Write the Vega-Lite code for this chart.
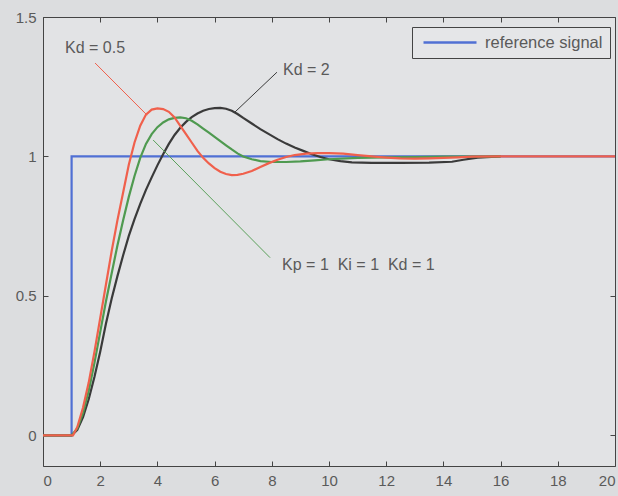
{
  "$schema": "https://vega.github.io/schema/vega-lite/v6.json",
  "width": 572,
  "height": 449,
  "autosize": {"type": "none"},
  "padding": {"left": 43, "top": 17, "right": 3, "bottom": 30},
  "background": "#dcdddf",
  "config": {
    "view": {"stroke": "#444", "strokeWidth": 1, "fill": "#e2e3e5"},
    "axis": {"domain": false, "grid": false, "tickColor": "#444", "tickSize": -5, "labelFont": "Liberation Sans", "labelFontSize": 15, "labelColor": "#5a5a5a", "title": null},
    "text": {"font": "Liberation Sans"}
  },
  "datasets": {
    "curves": [
      {"s": "reference signal", "i": 0, "t": 0, "y": 0},
      {"s": "reference signal", "i": 1, "t": 1, "y": 0},
      {"s": "reference signal", "i": 2, "t": 1, "y": 1},
      {"s": "reference signal", "i": 3, "t": 20, "y": 1},

      {"s": "Kd = 2", "i": 0, "t": 0, "y": 0},
      {"s": "Kd = 2", "i": 1, "t": 1, "y": 0},
      {"s": "Kd = 2", "i": 2, "t": 1.2, "y": 0.02},
      {"s": "Kd = 2", "i": 3, "t": 1.4, "y": 0.065},
      {"s": "Kd = 2", "i": 4, "t": 1.6, "y": 0.13},
      {"s": "Kd = 2", "i": 5, "t": 1.8, "y": 0.21},
      {"s": "Kd = 2", "i": 6, "t": 2.0, "y": 0.3},
      {"s": "Kd = 2", "i": 7, "t": 2.2, "y": 0.4},
      {"s": "Kd = 2", "i": 8, "t": 2.4, "y": 0.49},
      {"s": "Kd = 2", "i": 9, "t": 2.6, "y": 0.57},
      {"s": "Kd = 2", "i": 10, "t": 2.8, "y": 0.645},
      {"s": "Kd = 2", "i": 11, "t": 3.0, "y": 0.715},
      {"s": "Kd = 2", "i": 12, "t": 3.2, "y": 0.775},
      {"s": "Kd = 2", "i": 13, "t": 3.4, "y": 0.83},
      {"s": "Kd = 2", "i": 14, "t": 3.6, "y": 0.88},
      {"s": "Kd = 2", "i": 15, "t": 3.8, "y": 0.925},
      {"s": "Kd = 2", "i": 16, "t": 4.0, "y": 0.968},
      {"s": "Kd = 2", "i": 17, "t": 4.2, "y": 1.008},
      {"s": "Kd = 2", "i": 18, "t": 4.4, "y": 1.045},
      {"s": "Kd = 2", "i": 19, "t": 4.6, "y": 1.077},
      {"s": "Kd = 2", "i": 20, "t": 4.8, "y": 1.103},
      {"s": "Kd = 2", "i": 21, "t": 5.0, "y": 1.124},
      {"s": "Kd = 2", "i": 22, "t": 5.2, "y": 1.141},
      {"s": "Kd = 2", "i": 23, "t": 5.4, "y": 1.154},
      {"s": "Kd = 2", "i": 24, "t": 5.6, "y": 1.164},
      {"s": "Kd = 2", "i": 25, "t": 5.8, "y": 1.17},
      {"s": "Kd = 2", "i": 26, "t": 6.0, "y": 1.173},
      {"s": "Kd = 2", "i": 27, "t": 6.2, "y": 1.174},
      {"s": "Kd = 2", "i": 28, "t": 6.4, "y": 1.171},
      {"s": "Kd = 2", "i": 29, "t": 6.6, "y": 1.164},
      {"s": "Kd = 2", "i": 30, "t": 6.8, "y": 1.152},
      {"s": "Kd = 2", "i": 31, "t": 7.0, "y": 1.138},
      {"s": "Kd = 2", "i": 32, "t": 7.3, "y": 1.118},
      {"s": "Kd = 2", "i": 33, "t": 7.6, "y": 1.098},
      {"s": "Kd = 2", "i": 34, "t": 7.9, "y": 1.08},
      {"s": "Kd = 2", "i": 35, "t": 8.2, "y": 1.062},
      {"s": "Kd = 2", "i": 36, "t": 8.5, "y": 1.046},
      {"s": "Kd = 2", "i": 37, "t": 8.8, "y": 1.032},
      {"s": "Kd = 2", "i": 38, "t": 9.1, "y": 1.02},
      {"s": "Kd = 2", "i": 39, "t": 9.4, "y": 1.008},
      {"s": "Kd = 2", "i": 40, "t": 9.7, "y": 0.998},
      {"s": "Kd = 2", "i": 41, "t": 10.0, "y": 0.99},
      {"s": "Kd = 2", "i": 42, "t": 10.4, "y": 0.983},
      {"s": "Kd = 2", "i": 43, "t": 10.8, "y": 0.979},
      {"s": "Kd = 2", "i": 44, "t": 11.5, "y": 0.977},
      {"s": "Kd = 2", "i": 45, "t": 12.5, "y": 0.977},
      {"s": "Kd = 2", "i": 46, "t": 13.5, "y": 0.978},
      {"s": "Kd = 2", "i": 47, "t": 14.3, "y": 0.981},
      {"s": "Kd = 2", "i": 48, "t": 14.7, "y": 0.988},
      {"s": "Kd = 2", "i": 49, "t": 15.2, "y": 0.996},
      {"s": "Kd = 2", "i": 50, "t": 16.0, "y": 1.0},

      {"s": "Kd = 1", "i": 0, "t": 0, "y": 0},
      {"s": "Kd = 1", "i": 1, "t": 1, "y": 0},
      {"s": "Kd = 1", "i": 2, "t": 1.2, "y": 0.025},
      {"s": "Kd = 1", "i": 3, "t": 1.4, "y": 0.08},
      {"s": "Kd = 1", "i": 4, "t": 1.6, "y": 0.16},
      {"s": "Kd = 1", "i": 5, "t": 1.8, "y": 0.26},
      {"s": "Kd = 1", "i": 6, "t": 2.0, "y": 0.37},
      {"s": "Kd = 1", "i": 7, "t": 2.2, "y": 0.48},
      {"s": "Kd = 1", "i": 8, "t": 2.4, "y": 0.58},
      {"s": "Kd = 1", "i": 9, "t": 2.6, "y": 0.68},
      {"s": "Kd = 1", "i": 10, "t": 2.8, "y": 0.77},
      {"s": "Kd = 1", "i": 11, "t": 3.0, "y": 0.855},
      {"s": "Kd = 1", "i": 12, "t": 3.2, "y": 0.93},
      {"s": "Kd = 1", "i": 13, "t": 3.4, "y": 0.995},
      {"s": "Kd = 1", "i": 14, "t": 3.6, "y": 1.045},
      {"s": "Kd = 1", "i": 15, "t": 3.8, "y": 1.08},
      {"s": "Kd = 1", "i": 16, "t": 4.0, "y": 1.105},
      {"s": "Kd = 1", "i": 17, "t": 4.2, "y": 1.122},
      {"s": "Kd = 1", "i": 18, "t": 4.4, "y": 1.133},
      {"s": "Kd = 1", "i": 19, "t": 4.6, "y": 1.138},
      {"s": "Kd = 1", "i": 20, "t": 4.8, "y": 1.14},
      {"s": "Kd = 1", "i": 21, "t": 5.0, "y": 1.137},
      {"s": "Kd = 1", "i": 22, "t": 5.2, "y": 1.128},
      {"s": "Kd = 1", "i": 23, "t": 5.4, "y": 1.115},
      {"s": "Kd = 1", "i": 24, "t": 5.6, "y": 1.1},
      {"s": "Kd = 1", "i": 25, "t": 5.8, "y": 1.085},
      {"s": "Kd = 1", "i": 26, "t": 6.0, "y": 1.07},
      {"s": "Kd = 1", "i": 27, "t": 6.2, "y": 1.055},
      {"s": "Kd = 1", "i": 28, "t": 6.4, "y": 1.04},
      {"s": "Kd = 1", "i": 29, "t": 6.6, "y": 1.025},
      {"s": "Kd = 1", "i": 30, "t": 6.8, "y": 1.011},
      {"s": "Kd = 1", "i": 31, "t": 7.0, "y": 1.0},
      {"s": "Kd = 1", "i": 32, "t": 7.3, "y": 0.99},
      {"s": "Kd = 1", "i": 33, "t": 7.6, "y": 0.983},
      {"s": "Kd = 1", "i": 34, "t": 8.0, "y": 0.98},
      {"s": "Kd = 1", "i": 35, "t": 8.5, "y": 0.98},
      {"s": "Kd = 1", "i": 36, "t": 9.0, "y": 0.982},
      {"s": "Kd = 1", "i": 37, "t": 9.5, "y": 0.986},
      {"s": "Kd = 1", "i": 38, "t": 10.0, "y": 0.99},
      {"s": "Kd = 1", "i": 39, "t": 11.0, "y": 0.995},
      {"s": "Kd = 1", "i": 40, "t": 12.0, "y": 0.997},
      {"s": "Kd = 1", "i": 41, "t": 13.0, "y": 0.998},
      {"s": "Kd = 1", "i": 42, "t": 14.0, "y": 0.999},
      {"s": "Kd = 1", "i": 43, "t": 16.0, "y": 1.0},

      {"s": "Kd = 0.5", "i": 0, "t": 0, "y": 0},
      {"s": "Kd = 0.5", "i": 1, "t": 1.05, "y": 0},
      {"s": "Kd = 0.5", "i": 2, "t": 1.2, "y": 0.03},
      {"s": "Kd = 0.5", "i": 3, "t": 1.4, "y": 0.1},
      {"s": "Kd = 0.5", "i": 4, "t": 1.6, "y": 0.19},
      {"s": "Kd = 0.5", "i": 5, "t": 1.8, "y": 0.3},
      {"s": "Kd = 0.5", "i": 6, "t": 2.0, "y": 0.42},
      {"s": "Kd = 0.5", "i": 7, "t": 2.2, "y": 0.54},
      {"s": "Kd = 0.5", "i": 8, "t": 2.4, "y": 0.66},
      {"s": "Kd = 0.5", "i": 9, "t": 2.6, "y": 0.77},
      {"s": "Kd = 0.5", "i": 10, "t": 2.8, "y": 0.87},
      {"s": "Kd = 0.5", "i": 11, "t": 3.0, "y": 0.97},
      {"s": "Kd = 0.5", "i": 12, "t": 3.2, "y": 1.05},
      {"s": "Kd = 0.5", "i": 13, "t": 3.4, "y": 1.11},
      {"s": "Kd = 0.5", "i": 14, "t": 3.6, "y": 1.15},
      {"s": "Kd = 0.5", "i": 15, "t": 3.8, "y": 1.168},
      {"s": "Kd = 0.5", "i": 16, "t": 4.0, "y": 1.172},
      {"s": "Kd = 0.5", "i": 17, "t": 4.2, "y": 1.17},
      {"s": "Kd = 0.5", "i": 18, "t": 4.4, "y": 1.16},
      {"s": "Kd = 0.5", "i": 19, "t": 4.6, "y": 1.14},
      {"s": "Kd = 0.5", "i": 20, "t": 4.8, "y": 1.11},
      {"s": "Kd = 0.5", "i": 21, "t": 5.0, "y": 1.08},
      {"s": "Kd = 0.5", "i": 22, "t": 5.2, "y": 1.05},
      {"s": "Kd = 0.5", "i": 23, "t": 5.4, "y": 1.02},
      {"s": "Kd = 0.5", "i": 24, "t": 5.6, "y": 0.995},
      {"s": "Kd = 0.5", "i": 25, "t": 5.8, "y": 0.975},
      {"s": "Kd = 0.5", "i": 26, "t": 6.0, "y": 0.958},
      {"s": "Kd = 0.5", "i": 27, "t": 6.2, "y": 0.945},
      {"s": "Kd = 0.5", "i": 28, "t": 6.4, "y": 0.937},
      {"s": "Kd = 0.5", "i": 29, "t": 6.6, "y": 0.933},
      {"s": "Kd = 0.5", "i": 30, "t": 6.8, "y": 0.934},
      {"s": "Kd = 0.5", "i": 31, "t": 7.0, "y": 0.938},
      {"s": "Kd = 0.5", "i": 32, "t": 7.3, "y": 0.948},
      {"s": "Kd = 0.5", "i": 33, "t": 7.6, "y": 0.962},
      {"s": "Kd = 0.5", "i": 34, "t": 7.9, "y": 0.976},
      {"s": "Kd = 0.5", "i": 35, "t": 8.2, "y": 0.988},
      {"s": "Kd = 0.5", "i": 36, "t": 8.5, "y": 0.998},
      {"s": "Kd = 0.5", "i": 37, "t": 8.8, "y": 1.005},
      {"s": "Kd = 0.5", "i": 38, "t": 9.2, "y": 1.01},
      {"s": "Kd = 0.5", "i": 39, "t": 9.6, "y": 1.012},
      {"s": "Kd = 0.5", "i": 40, "t": 10.0, "y": 1.012},
      {"s": "Kd = 0.5", "i": 41, "t": 10.5, "y": 1.01},
      {"s": "Kd = 0.5", "i": 42, "t": 11.0, "y": 1.005},
      {"s": "Kd = 0.5", "i": 43, "t": 11.5, "y": 1.0},
      {"s": "Kd = 0.5", "i": 44, "t": 12.0, "y": 0.996},
      {"s": "Kd = 0.5", "i": 45, "t": 12.5, "y": 0.993},
      {"s": "Kd = 0.5", "i": 46, "t": 13.0, "y": 0.992},
      {"s": "Kd = 0.5", "i": 47, "t": 13.5, "y": 0.993},
      {"s": "Kd = 0.5", "i": 48, "t": 14.0, "y": 0.995},
      {"s": "Kd = 0.5", "i": 49, "t": 14.5, "y": 0.997},
      {"s": "Kd = 0.5", "i": 50, "t": 15.0, "y": 0.999},
      {"s": "Kd = 0.5", "i": 51, "t": 16.0, "y": 1.0},
      {"s": "Kd = 0.5", "i": 52, "t": 20.0, "y": 1.0}
    ],
    "pointers": [
      {"t": 1.82, "y": 1.335, "t2": 3.64, "y2": 1.148, "c": "#f0604c"},
      {"t": 8.18, "y": 1.302, "t2": 6.71, "y2": 1.159, "c": "#3a3a3a"},
      {"t": 3.85, "y": 1.059, "t2": 7.94, "y2": 0.637, "c": "#5aa05a"}
    ],
    "labels": [
      {"t": 0.77, "y": 1.388, "label": "Kd = 0.5"},
      {"t": 8.39, "y": 1.31, "label": "Kd = 2"},
      {"t": 8.36, "y": 0.612, "label": "Kp = 1\u00a0\u00a0Ki = 1\u00a0\u00a0Kd = 1"}
    ]
  },
  "resolve": {"axis": {"x": "independent", "y": "independent"}},
  "layer": [
    {
      "data": {"name": "curves"},
      "mark": {"type": "line", "strokeWidth": 2.2, "clip": true},
      "encoding": {
        "x": {"field": "t", "type": "quantitative", "scale": {"domain": [0, 20], "nice": false, "zero": false}, "axis": {"orient": "bottom", "values": [0, 2, 4, 6, 8, 10, 12, 14, 16, 18, 20], "labelPadding": 12}},
        "y": {"field": "y", "type": "quantitative", "scale": {"domain": [-0.11, 1.5], "nice": false, "zero": false}, "axis": {"orient": "left", "values": [0, 0.5, 1, 1.5], "format": "~g", "labelPadding": 12}},
        "color": {
          "field": "s", "type": "nominal",
          "scale": {"domain": ["reference signal", "Kd = 2", "Kd = 1", "Kd = 0.5"], "range": ["#5070d4", "#3a3a3a", "#4f9a50", "#f0604c"]},
          "legend": {"values": ["reference signal"], "title": null, "orient": "none", "legendX": 369, "legendY": 10, "symbolType": "M-0.57,0H7", "symbolSize": 196, "symbolStrokeWidth": 2.5, "strokeColor": "#444", "fillColor": "#e5e6e8", "padding": 7, "labelFont": "Liberation Sans", "labelFontSize": 16.5, "labelColor": "#5a5a5a", "labelOffset": 49}
        },
        "order": {"field": "i", "type": "quantitative"}
      }
    },
    {
      "data": {"name": "pointers"},
      "mark": {"type": "rule", "strokeWidth": 1},
      "encoding": {
        "x": {"field": "t", "type": "quantitative", "axis": {"orient": "top", "values": [0, 2, 4, 6, 8, 10, 12, 14, 16, 18, 20], "labels": false}},
        "y": {"field": "y", "type": "quantitative", "axis": {"orient": "right", "values": [0, 0.5, 1, 1.5], "labels": false}},
        "x2": {"field": "t2"},
        "y2": {"field": "y2"},
        "color": {"field": "c", "type": "nominal", "scale": null}
      }
    },
    {
      "data": {"name": "labels"},
      "mark": {"type": "text", "align": "left", "baseline": "middle", "fontSize": 16, "color": "#5a5a5a"},
      "encoding": {
        "x": {"field": "t", "type": "quantitative", "axis": null},
        "y": {"field": "y", "type": "quantitative", "axis": null},
        "text": {"field": "label"}
      }
    }
  ]
}
